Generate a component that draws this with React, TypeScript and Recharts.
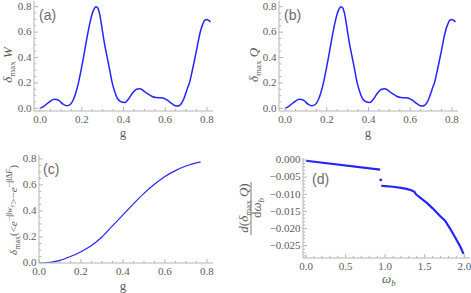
import React from 'react';
import { ComposedChart, Line, Scatter, XAxis, YAxis } from 'recharts';

const W = 471;
const H = 293;
const BLUE = '#2424ff';
const FRAME = '#b4b4b4';
const TXT = '#5c5c5c';
const SERIF = "'Liberation Serif', 'DejaVu Serif', 'Times New Roman', serif";
const SANS = "'Liberation Sans', Arial, sans-serif";

// (a) delta_max W versus g
const gW = [0, 0.02, 0.04, 0.068, 0.09, 0.11, 0.129, 0.145, 0.16, 0.172, 0.184, 0.196, 0.208, 0.22, 0.23, 0.24, 0.25, 0.26, 0.268, 0.277, 0.286, 0.298, 0.31, 0.322, 0.334, 0.346, 0.358, 0.37, 0.385, 0.405, 0.425, 0.445, 0.462, 0.478, 0.495, 0.515, 0.535, 0.555, 0.575, 0.595, 0.61, 0.625, 0.64, 0.655, 0.668, 0.68, 0.69, 0.7, 0.708, 0.716, 0.73, 0.743, 0.755, 0.767, 0.778, 0.79, 0.8, 0.81, 0.817];
const wVals = [0, 0.018, 0.045, 0.072, 0.062, 0.033, 0.02, 0.03, 0.07, 0.125, 0.2, 0.295, 0.4, 0.51, 0.6, 0.68, 0.745, 0.785, 0.8, 0.79, 0.74, 0.62, 0.5, 0.4, 0.3, 0.2, 0.13, 0.08, 0.055, 0.045, 0.075, 0.125, 0.15, 0.155, 0.14, 0.115, 0.095, 0.085, 0.083, 0.078, 0.065, 0.045, 0.027, 0.018, 0.022, 0.045, 0.08, 0.125, 0.165, 0.2, 0.3, 0.4, 0.5, 0.595, 0.655, 0.695, 0.7, 0.69, 0.68];

// (b) delta_max Q versus g
const gQ = [0, 0.02, 0.04, 0.068, 0.09, 0.11, 0.129, 0.145, 0.16, 0.172, 0.184, 0.196, 0.208, 0.22, 0.23, 0.24, 0.25, 0.26, 0.268, 0.277, 0.286, 0.298, 0.31, 0.322, 0.334, 0.346, 0.358, 0.37, 0.385, 0.405, 0.425, 0.445, 0.462, 0.478, 0.495, 0.515, 0.535, 0.555, 0.575, 0.595, 0.61, 0.625, 0.64, 0.655, 0.668, 0.68, 0.69, 0.7, 0.708, 0.716, 0.73, 0.743, 0.755, 0.767, 0.778, 0.79, 0.8, 0.81, 0.817];
const qVals = [0, 0.018, 0.045, 0.072, 0.062, 0.033, 0.02, 0.03, 0.07, 0.125, 0.2, 0.295, 0.4, 0.51, 0.6, 0.68, 0.745, 0.785, 0.8, 0.79, 0.74, 0.62, 0.5, 0.4, 0.3, 0.2, 0.13, 0.08, 0.055, 0.045, 0.075, 0.125, 0.15, 0.155, 0.14, 0.115, 0.095, 0.085, 0.083, 0.078, 0.065, 0.045, 0.027, 0.018, 0.022, 0.045, 0.08, 0.125, 0.165, 0.2, 0.3, 0.4, 0.5, 0.595, 0.655, 0.695, 0.7, 0.69, 0.68];

// (c) delta_max of the exponential average
const gC = [0, 0.05, 0.1, 0.15, 0.2, 0.25, 0.3, 0.35, 0.4, 0.45, 0.5, 0.55, 0.6, 0.65, 0.7, 0.75, 0.77];
const cVals = [0, 0.004, 0.02, 0.05, 0.087, 0.135, 0.2, 0.285, 0.37, 0.455, 0.535, 0.605, 0.665, 0.71, 0.745, 0.77, 0.775];

// (d) derivative versus omega_b, two branches and one stray point
const omegaLow = [0, 0.937];
const dLow = [-0.0002, -0.0028];
const omegaHigh = [0.95, 1.0, 1.1, 1.2, 1.27, 1.33, 1.37, 1.39, 1.45, 1.53, 1.6, 1.7, 1.76, 1.82, 1.88, 1.95, 1.99];
const dHigh = [-0.0075, -0.0076, -0.0078, -0.0081, -0.0084, -0.0088, -0.0093, -0.01, -0.0111, -0.0126, -0.0141, -0.0165, -0.0178, -0.02, -0.0224, -0.0253, -0.0274];
const omegaStray = [0.945];
const dStray = [-0.0058];

// ticks
const gTicks = [0, 0.2, 0.4, 0.6, 0.8];
const gLabels = ['0.0', '0.2', '0.4', '0.6', '0.8'];
const omegaTicks = [0, 0.5, 1, 1.5, 2];
const omegaLabels = ['0.0', '0.5', '1.0', '1.5', '2.0'];
const dTicks = [0, -0.005, -0.01, -0.015, -0.02, -0.025];
const dLabels = ['0.000', '\u22120.005', '\u22120.010', '\u22120.015', '\u22120.020', '\u22120.025'];

const toRows = (xs: number[], ys: number[]) => xs.map((x, i) => ({ x, y: ys[i] }));

const steps = (lo: number, hi: number, step: number) => {
  const out: number[] = [];
  const n0 = Math.ceil(lo / step - 1e-9);
  const n1 = Math.floor(hi / step + 1e-9);
  for (let n = n0; n <= n1; n++) out.push(Math.round(n * step * 1e6) / 1e6);
  return out;
};

type Side = 'bottom' | 'top' | 'left' | 'right';

function makeTick(side: Side, majors: number[], labels: string[]) {
  return (p: any) => {
    const { x, y, payload } = p;
    const i = majors.findIndex((m) => Math.abs(m - payload.value) < 1e-9);
    const len = i >= 0 ? 4 : 2.2;
    let line;
    if (side === 'bottom') line = <line x1={x} y1={y} x2={x} y2={y - len} stroke={FRAME} />;
    else if (side === 'top') line = <line x1={x} y1={y} x2={x} y2={y + len} stroke={FRAME} />;
    else if (side === 'left') line = <line x1={x} y1={y} x2={x + len} y2={y} stroke={FRAME} />;
    else line = <line x1={x} y1={y} x2={x - len} y2={y} stroke={FRAME} />;
    let label = null;
    if (i >= 0 && side === 'bottom') {
      label = (
        <text x={x} y={y + 11.8} textAnchor="middle" fill={TXT} style={{ fontSize: 11, fontFamily: SERIF }}>
          {labels[i]}
        </text>
      );
    }
    if (i >= 0 && side === 'left') {
      label = (
        <text x={x - 2.5} y={y + 3.2} textAnchor="end" fill={TXT} style={{ fontSize: 11, fontFamily: SERIF }}>
          {labels[i]}
        </text>
      );
    }
    return (
      <g>
        {line}
        {label}
      </g>
    );
  };
}

type PanelProps = {
  box: [number, number, number, number];
  xDomain: [number, number];
  yDomain: [number, number];
  xMajor: number[];
  xLabels: string[];
  xStep: number;
  yMajor: number[];
  yLabels: string[];
  yStep: number;
  children: React.ReactNode;
};

function Panel({ box, xDomain, yDomain, xMajor, xLabels, xStep, yMajor, yLabels, yStep, children }: PanelProps) {
  const [l, t, r, b] = box;
  const xAll = steps(xDomain[0], xDomain[1], xStep);
  const yAll = steps(yDomain[0], yDomain[1], yStep);
  const common = { type: 'number' as const, allowDataOverflow: true, interval: 0 as const, tickSize: 0, tickMargin: 0, tickLine: false, axisLine: { stroke: FRAME } };
  return (
    <div style={{ position: 'absolute', left: 0, top: 0 }}>
      <ComposedChart width={W} height={H} margin={{ top: t, right: W - r, bottom: 0, left: 0 }}>
        <XAxis {...common} xAxisId="b" dataKey="x" domain={xDomain} ticks={xAll} height={H - b} tick={makeTick('bottom', xMajor, xLabels)} />
        <XAxis {...common} xAxisId="t" orientation="top" dataKey="x" domain={xDomain} ticks={xAll} height={0} tick={makeTick('top', xMajor, xLabels)} />
        <YAxis {...common} yAxisId="l" dataKey="y" domain={yDomain} ticks={yAll} width={l} tick={makeTick('left', yMajor, yLabels)} />
        <YAxis {...common} yAxisId="r" orientation="right" dataKey="y" domain={yDomain} ticks={yAll} width={0} tick={makeTick('right', yMajor, yLabels)} />
        {children}
      </ComposedChart>
    </div>
  );
}

const curve = (rows: { x: number; y: number }[], type: 'monotone' | 'linear', width: number) => (
  <Line xAxisId="b" yAxisId="l" data={rows} dataKey="y" type={type} stroke={BLUE} strokeWidth={width} dot={false} isAnimationActive={false} />
);

const dotShape = (p: any) => <circle cx={p.cx} cy={p.cy} r={1.4} fill={BLUE} />;

function Labels() {
  const s = (size: number) => ({ fontSize: size, fontFamily: SERIF });
  return (
    <svg width={W} height={H} style={{ position: 'absolute', left: 0, top: 0, pointerEvents: 'none' }}>
      <g fill="#6a6a6a" style={{ fontFamily: SANS, fontSize: 14 }}>
        <text x={39} y={20}>(a)</text>
        <text x={284} y={20}>(b)</text>
        <text x={43} y={174}>(c)</text>
        <text x={312} y={184}>(d)</text>
      </g>
      <g fill={TXT}>
        <text x={123} y={137} textAnchor="middle" style={s(13)}>g</text>
        <text x={368} y={137} textAnchor="middle" style={s(13)}>g</text>
        <text x={123} y={290} textAnchor="middle" style={s(13)}>g</text>
        <text x={382} y={283} style={{ ...s(13), fontStyle: 'italic' }}>
          ω<tspan fontSize={9} dy={3}>b</tspan>
        </text>
        <text transform="translate(12,65) rotate(-90)" textAnchor="middle" style={s(13)}>
          <tspan fontStyle="italic">δ</tspan>
          <tspan fontSize={9} dy={3}>max</tspan>
          <tspan dy={-3} fontStyle="italic"> W</tspan>
        </text>
        <text transform="translate(258,65) rotate(-90)" textAnchor="middle" style={s(13)}>
          <tspan fontStyle="italic">δ</tspan>
          <tspan fontSize={9} dy={3}>max</tspan>
          <tspan dy={-3} fontStyle="italic"> Q</tspan>
        </text>
        <text transform="translate(17,210) rotate(-90)" textAnchor="middle" style={s(11)}>
          <tspan fontStyle="italic">δ</tspan>
          <tspan fontSize={8} dy={2.5}>max</tspan>
          <tspan dy={-2.5}>(&lt;</tspan>
          <tspan fontStyle="italic">e</tspan>
          <tspan fontSize={8} dy={-5}>−β</tspan>
          <tspan fontSize={8} fontStyle="italic">w</tspan>
          <tspan fontSize={6} dy={2} fontStyle="italic">e</tspan>
          <tspan dy={3}>&gt;−</tspan>
          <tspan fontStyle="italic">e</tspan>
          <tspan fontSize={8} dy={-5}>−βΔ</tspan>
          <tspan fontSize={8} fontStyle="italic">F</tspan>
          <tspan dy={5}>)</tspan>
        </text>
        <g transform="translate(0,208)">
          <text transform="translate(247.5,0) rotate(-90)" textAnchor="middle" style={s(13)}>
            <tspan fontStyle="italic">d</tspan>
            <tspan>(</tspan>
            <tspan fontStyle="italic">δ</tspan>
            <tspan fontSize={9} dy={3}>max</tspan>
            <tspan dy={-3} fontStyle="italic"> Q</tspan>
            <tspan>)</tspan>
          </text>
          <line x1={251} y1={-26} x2={251} y2={27} stroke={TXT} strokeWidth={0.8} />
          <text transform="translate(261,0) rotate(-90)" textAnchor="middle" style={s(13)}>
            <tspan>d</tspan>
            <tspan fontStyle="italic">ω</tspan>
            <tspan fontSize={9} dy={3} fontStyle="italic">b</tspan>
          </text>
        </g>
      </g>
    </svg>
  );
}

export default function App() {
  return (
    <div style={{ position: 'absolute', left: 0, top: 0, width: W, height: H, background: '#fff' }}>
      <Panel box={[34, 1, 213, 111]} xDomain={[-0.029, 0.829]} yDomain={[-0.021, 0.845]} xMajor={gTicks} xLabels={gLabels} xStep={0.05} yMajor={gTicks} yLabels={gLabels} yStep={0.05}>
        {curve(toRows(gW, wVals), 'monotone', 1.5)}
      </Panel>
      <Panel box={[279, 1, 458, 111]} xDomain={[-0.029, 0.829]} yDomain={[-0.021, 0.845]} xMajor={gTicks} xLabels={gLabels} xStep={0.05} yMajor={gTicks} yLabels={gLabels} yStep={0.05}>
        {curve(toRows(gQ, qVals), 'monotone', 1.5)}
      </Panel>
      <Panel box={[39, 155, 213, 263]} xDomain={[0, 0.829]} yDomain={[0, 0.83]} xMajor={gTicks} xLabels={gLabels} xStep={0.05} yMajor={gTicks} yLabels={gLabels} yStep={0.05}>
        {curve(toRows(gC, cVals), 'monotone', 1.2)}
      </Panel>
      <Panel box={[303, 158, 470, 258]} xDomain={[-0.038, 2.072]} yDomain={[-0.0286, 0.0006]} xMajor={omegaTicks} xLabels={omegaLabels} xStep={0.1} yMajor={dTicks} yLabels={dLabels} yStep={0.001}>
        {curve(toRows(omegaLow, dLow), 'linear', 2.2)}
        {curve(toRows(omegaHigh, dHigh), 'linear', 2.2)}
        <Scatter xAxisId="b" yAxisId="l" data={toRows(omegaStray, dStray)} dataKey="y" fill={BLUE} shape={dotShape} isAnimationActive={false} />
      </Panel>
      <Labels />
    </div>
  );
}
